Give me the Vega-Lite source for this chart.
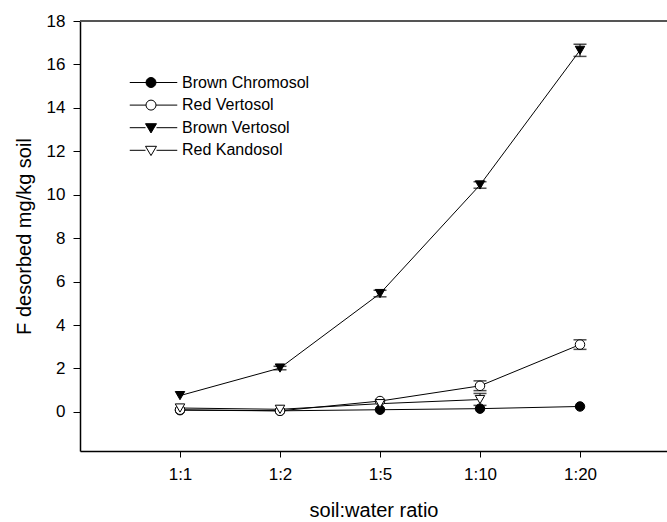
{
  "$schema": "https://vega.github.io/schema/vega-lite/v6.json",
  "width": 587,
  "height": 430,
  "autosize": {"type": "none"},
  "padding": {"left": 80, "top": 21, "right": 0, "bottom": 71},
  "background": "white",
  "config": {
    "view": {"stroke": null},
    "font": "Liberation Sans",
    "axis": {"grid": false, "domainColor": "black", "domainWidth": 1.5, "tickColor": "black", "tickWidth": 1, "labelColor": "black", "titleColor": "black", "titleFontWeight": "normal", "labelFontSize": 17, "titleFontSize": 20, "labelFont": "Liberation Sans", "titleFont": "Liberation Sans"}
  },
  "datasets": {
    "pts": [
      {"ratio": 1, "series": "Brown Chromosol", "value": 0.08},
      {"ratio": 2, "series": "Brown Chromosol", "value": 0.05},
      {"ratio": 3, "series": "Brown Chromosol", "value": 0.1},
      {"ratio": 4, "series": "Brown Chromosol", "value": 0.15},
      {"ratio": 5, "series": "Brown Chromosol", "value": 0.25},
      {"ratio": 1, "series": "Red Vertosol", "value": 0.1},
      {"ratio": 2, "series": "Red Vertosol", "value": 0.05},
      {"ratio": 3, "series": "Red Vertosol", "value": 0.5},
      {"ratio": 4, "series": "Red Vertosol", "value": 1.2},
      {"ratio": 5, "series": "Red Vertosol", "value": 3.1},
      {"ratio": 1, "series": "Brown Vertosol", "value": 0.75},
      {"ratio": 2, "series": "Brown Vertosol", "value": 2.02},
      {"ratio": 3, "series": "Brown Vertosol", "value": 5.45},
      {"ratio": 4, "series": "Brown Vertosol", "value": 10.45},
      {"ratio": 5, "series": "Brown Vertosol", "value": 16.65},
      {"ratio": 1, "series": "Red Kandosol", "value": 0.18},
      {"ratio": 2, "series": "Red Kandosol", "value": 0.12},
      {"ratio": 3, "series": "Red Kandosol", "value": 0.38},
      {"ratio": 4, "series": "Red Kandosol", "value": 0.57}
    ],
    "errs": [
      {"ratio": 2, "series": "Brown Vertosol", "lo": 1.94, "hi": 2.1},
      {"ratio": 3, "series": "Brown Vertosol", "lo": 5.3, "hi": 5.6},
      {"ratio": 4, "series": "Brown Vertosol", "lo": 10.3, "hi": 10.6},
      {"ratio": 5, "series": "Brown Vertosol", "lo": 16.37, "hi": 16.93},
      {"ratio": 4, "series": "Red Vertosol", "lo": 0.98, "hi": 1.43},
      {"ratio": 5, "series": "Red Vertosol", "lo": 2.88, "hi": 3.32},
      {"ratio": 4, "series": "Red Kandosol", "lo": 0.3, "hi": 0.85}
    ],
    "top": [{"y": 18}]
  },
  "layer": [
    {
      "data": {"name": "top"},
      "mark": {"type": "rule", "color": "#555555", "strokeWidth": 2},
      "encoding": {"y": {"field": "y", "type": "quantitative"}}
    },
    {
      "data": {"name": "pts"},
      "mark": {"type": "line", "color": "black", "strokeWidth": 1},
      "encoding": {
        "x": {"field": "ratio", "type": "quantitative", "scale": {"domain": [0, 5.87], "nice": false, "zero": false},
          "axis": {"values": [1, 2, 3, 4, 5], "labelExpr": "datum.value == 1 ? '1:1' : datum.value == 2 ? '1:2' : datum.value == 3 ? '1:5' : datum.value == 4 ? '1:10' : '1:20'", "title": "soil:water ratio", "tickSize": 6, "labelPadding": 9, "titlePadding": 18}},
        "y": {"field": "value", "type": "quantitative", "scale": {"domain": [-1.8, 18], "nice": false, "zero": false},
          "axis": {"values": [0, 2, 4, 6, 8, 10, 12, 14, 16, 18], "title": "F desorbed mg/kg soil", "tickSize": 7, "labelPadding": 8, "titlePadding": 12}},
        "detail": {"field": "series"}
      }
    },
    {
      "data": {"name": "errs"},
      "mark": {"type": "rule", "color": "black", "strokeWidth": 1},
      "encoding": {
        "x": {"field": "ratio", "type": "quantitative"},
        "y": {"field": "lo", "type": "quantitative"},
        "y2": {"field": "hi"}
      }
    },
    {
      "data": {"name": "errs"},
      "mark": {"type": "tick", "color": "black", "orient": "horizontal", "size": 13, "thickness": 1.5},
      "encoding": {
        "x": {"field": "ratio", "type": "quantitative"},
        "y": {"field": "lo", "type": "quantitative"}
      }
    },
    {
      "data": {"name": "errs"},
      "mark": {"type": "tick", "color": "black", "orient": "horizontal", "size": 13, "thickness": 1.5},
      "encoding": {
        "x": {"field": "ratio", "type": "quantitative"},
        "y": {"field": "hi", "type": "quantitative"}
      }
    },
    {
      "data": {"name": "pts"},
      "mark": {"type": "point", "stroke": "black", "strokeWidth": 1, "opacity": 1, "size": 90},
      "encoding": {
        "x": {"field": "ratio", "type": "quantitative"},
        "y": {"field": "value", "type": "quantitative"},
        "shape": {"field": "series", "type": "nominal", "legend": null,
          "scale": {"domain": ["Brown Chromosol", "Red Vertosol", "Brown Vertosol", "Red Kandosol"], "range": ["circle", "circle", "triangle-down", "triangle-down"]}},
        "fill": {"field": "series", "type": "nominal", "legend": null,
          "scale": {"domain": ["Brown Chromosol", "Red Vertosol", "Brown Vertosol", "Red Kandosol"], "range": ["black", "white", "black", "white"]}}
      }
    },
    {
      "data": {"name": "pts"},
      "transform": [{"filter": "false"}],
      "mark": {"type": "point", "strokeWidth": 1, "opacity": 1, "size": 64},
      "encoding": {
        "x": {"field": "ratio", "type": "quantitative"},
        "y": {"field": "value", "type": "quantitative"},
        "shape": {"field": "series", "type": "nominal", "title": null,
          "scale": {"domain": ["Brown Chromosol", "Red Vertosol", "Brown Vertosol", "Red Kandosol"],
            "range": [
              "M-4.25,0H-1 M1,0H5.25 M-1,0A1,1 0 1,0 1,0A1,1 0 1,0 -1,0Z",
              "M-4.25,0H-1 M1,0H5.25 M-1,0A1,1 0 1,0 1,0A1,1 0 1,0 -1,0Z",
              "M-4.25,0H-1.1 M1.1,0H5.25 M-1.1,-0.8L1.1,-0.8L0,1.05Z",
              "M-4.25,0H-1.1 M1.1,0H5.25 M-1.1,-0.8L1.1,-0.8L0,1.05Z"
            ]},
          "legend": {"orient": "none", "legendX": 63, "legendY": 53.5, "labelFontSize": 16, "labelOffset": 23, "rowPadding": 6.6, "padding": 0, "symbolStrokeWidth": 1, "labelColor": "black", "labelFont": "Liberation Sans"}},
        "fill": {"field": "series", "type": "nominal", "title": null,
          "scale": {"domain": ["Brown Chromosol", "Red Vertosol", "Brown Vertosol", "Red Kandosol"], "range": ["black", "white", "black", "white"]}},
        "stroke": {"field": "series", "type": "nominal", "title": null,
          "scale": {"domain": ["Brown Chromosol", "Red Vertosol", "Brown Vertosol", "Red Kandosol"], "range": ["black", "black", "black", "black"]}}
      }
    }
  ],
  "resolve": {"scale": {"shape": "independent", "fill": "independent", "stroke": "independent"}}
}
